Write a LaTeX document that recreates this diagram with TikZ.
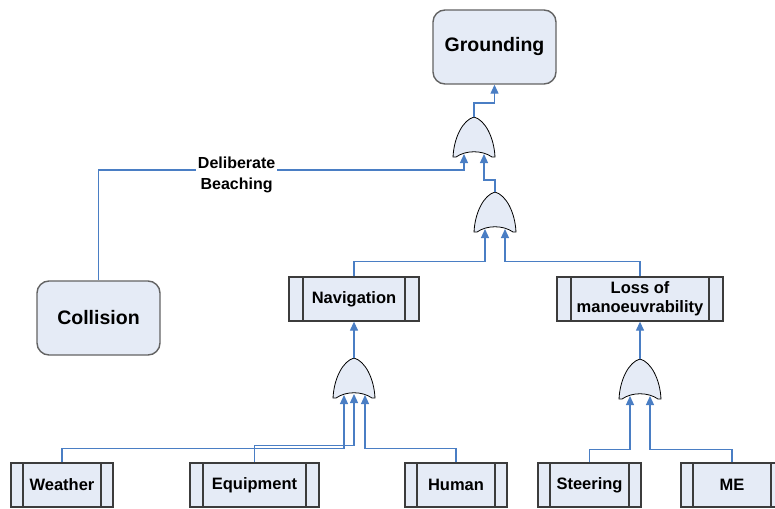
\documentclass[tikz,border=0pt]{standalone}
\usepackage{fontspec}
\setmainfont{Liberation Sans}
\usetikzlibrary{arrows.meta,calc}

\definecolor{evfill}{HTML}{E5EBF6}
\definecolor{wireblue}{HTML}{4A7EC4}
\definecolor{edgegray}{HTML}{3C3C3C}

\tikzset{
  topevent/.style={draw=edgegray!80, line width=1.4pt, fill=evfill, rounded corners=12pt,
    inner sep=0pt, font=\fontsize{19.5}{22}\selectfont\bfseries},
  basicevent/.style={draw=edgegray, line width=1.3pt, fill=evfill, inner sep=0pt,
    minimum height=44pt, align=center,
    font=\fontsize{16.5}{20}\selectfont\bfseries,
    path picture={
      \draw[edgegray, line width=1.3pt]
        ([xshift=#1]path picture bounding box.north west) -- ([xshift=#1]path picture bounding box.south west)
        ([xshift=-#1]path picture bounding box.north east) -- ([xshift=-#1]path picture bounding box.south east);
    }},
  basicevent/.default=13pt,
  wire/.style={draw=wireblue, line width=1.2pt},
  flow/.style={wire, -{Triangle[length=9pt,width=8pt]}},
  gateline/.style={draw=black, line width=0.8pt, fill=evfill},
  edgelabel/.style={fill=white, inner sep=2pt, align=center,
    font=\fontsize{16}{21}\selectfont\bfseries},
  orgatebody/.pic={
    \path[gateline] (0,0) .. controls (11,3) and (20,20) .. (21,40) -- (18,40)
      .. controls (8,33) and (-8,33) .. (-18,40) -- (-21,40)
      .. controls (-20,20) and (-11,3) .. cycle;
    \coordinate (-out) at (0,0);
  },
  orgatetwo/.pic={
    \pic {orgatebody};
    \coordinate (-out) at (0,0);
    \coordinate (-in1) at (-10,37);
    \coordinate (-in2) at (10,37);
  },
  orgatethree/.pic={
    \pic {orgatebody};
    \coordinate (-out) at (0,0);
    \coordinate (-in1) at (-10,37);
    \coordinate (-in2) at (0,36);
    \coordinate (-in3) at (11,37);
  },
}

\begin{document}
\begin{tikzpicture}[x=1pt,y=-1pt]
\useasboundingbox (0,0) rectangle (775,508);
\clip (0,0) rectangle (775,508);

% top events
\node[topevent, minimum width=123pt, minimum height=74pt] (grounding) at (494.5,47) {Grounding};
\node[topevent, minimum width=123pt, minimum height=74pt] (collision) at (98.5,318) {Collision};

% intermediate events
\node[basicevent=14pt, minimum width=130pt] (navigation) at (354,299) {Navigation};
\node[basicevent=14pt, minimum width=166pt] (loss) at (640,299) {Loss of\\[-1pt]manoeuvrability};

% basic events
\node[basicevent=12pt, minimum width=102pt] (weather) at (62,485) {Weather};
\node[basicevent=13pt, minimum width=129pt] (equipment) at (254.5,485) {Equipment};
\node[basicevent=12pt, minimum width=102pt] (human) at (456,485) {Human};
\node[basicevent=12pt, minimum width=103pt] (steering) at (589.5,485) {Steering};
\node[basicevent=12pt, minimum width=102pt] (me) at (732,485) {ME};

% OR gates
\pic (g1) at (474,117) {orgatetwo};
\pic (g2) at (495,192) {orgatetwo};
\pic (g3) at (354,358) {orgatethree};
\pic (g4) at (640,359) {orgatetwo};

% connectors
\draw[flow] (g1-out) -- ++(0,-14) -| (grounding.south);
\draw[flow] (g2-out) -- ++(0,-12) -| (g1-in2);
\draw[flow] (collision.north) |- node[pos=0.689, yshift=-5pt, edgelabel] (beach) {Deliberate\\Beaching} ($(g1-in1)+(0,16)$) -- (g1-in1);

\draw[flow] (navigation.north) -- ++(0,-15) -| (g2-in1);
\draw[flow] (loss.north) -- ++(0,-15) -| (g2-in2);

\draw[flow] (g3-out) -- (navigation.south);
\draw[flow] (g4-out) -- (loss.south);

\draw[flow] (weather.north) -- ++(0,-14) -| (g3-in1);
\draw[flow] (equipment.north) -- ++(0,-17) -| (g3-in2);
\draw[flow] (human.north) -- ++(0,-14) -| (g3-in3);

\draw[flow] (steering.north) -- ++(0,-13) -| (g4-in1);
\draw[flow] (me.north) -- ++(0,-13) -| (g4-in2);
\end{tikzpicture}
\end{document}
